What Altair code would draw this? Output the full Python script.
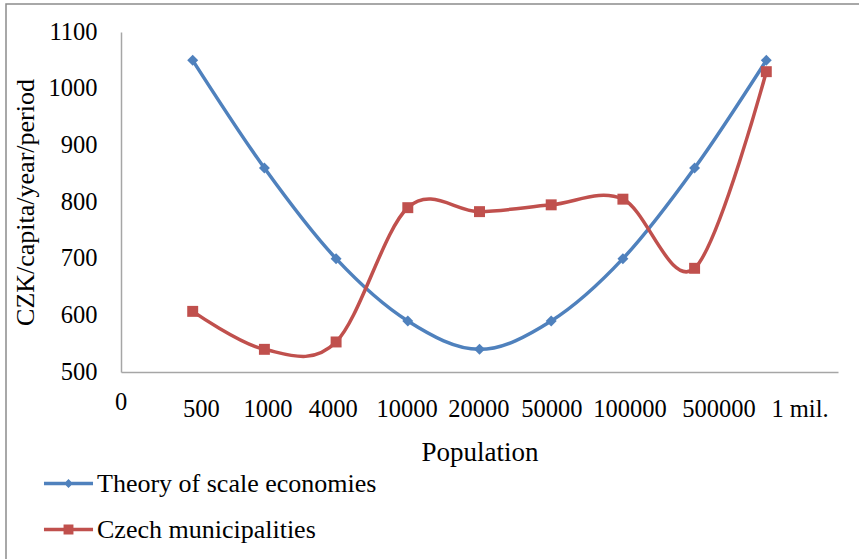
import altair as alt
import pandas as pd

# ---- data ----
populations = ["500", "1000", "4000", "10000", "20000", "50000", "100000", "500000", "1 mil."]
theory = [1050, 860, 700, 590, 540, 590, 700, 860, 1050]
czech = [607, 540, 553, 790, 783, 795, 805, 683, 1030]
series_names = ["Theory of scale economies", "Czech municipalities"]
colors = ["#4F81BD", "#C0504D"]

# category-axis labels (first one is the origin label "0")
axis_labels = ["0", "500", "1000", "4000", "10000", "20000", "50000", "100000", "500000", "1 mil."]
axis_label_pos = [0, 1.12, 2.05, 2.96, 3.99, 4.99, 6.01, 7.10, 8.34, 9.47]

FONT = "Liberation Serif"

pos = list(range(1, len(populations) + 1))
rows = []
for name, vals in zip(series_names, [theory, czech]):
    for p, lab, v in zip(pos, populations, vals):
        rows.append({"series": name, "pos": p, "population": lab, "value": v})
df = pd.DataFrame(rows)

lab_df = pd.DataFrame({"pos": axis_label_pos, "label": axis_labels})

x_enc = alt.X(
    "pos:Q",
    scale=alt.Scale(domain=[0, 10], nice=False, zero=False),
    axis=alt.Axis(
        title="Population", labels=False, ticks=False, grid=False,
        domainColor="#A6A6A6", domainWidth=1.5,
        titleFont=FONT, titleFontSize=27, titleFontWeight="normal",
        titleColor="black", titlePadding=67,
    ),
)
y_enc = alt.Y(
    "value:Q",
    scale=alt.Scale(domain=[500, 1100], nice=False, zero=False),
    axis=alt.Axis(
        title="CZK/capita/year/period", values=list(range(500, 1101, 100)), format="d",
        ticks=False, grid=False, domainColor="#A6A6A6", domainWidth=1.5,
        labelFont=FONT, labelFontSize=24.5, labelColor="black", labelPadding=24,
        titleFont=FONT, titleFontSize=26, titleFontWeight="normal",
        titleColor="black", titlePadding=10,
    ),
)
color_scale = alt.Scale(domain=series_names, range=colors)

legend_paths = [
    "M-1.09,-0.075H1.09V0.075H-1.09Z M-0.2,0L0,-0.2L0.2,0L0,0.2Z",
    "M-1.09,-0.075H1.09V0.075H-1.09Z M-0.22,-0.22H0.22V0.22H-0.22Z",
]
leg = alt.Legend(
    title=None, orient="none", legendX=-75, legendY=429, padding=0,
    rowPadding=10, labelOffset=6, symbolSize=2025, symbolStrokeWidth=0,
    symbolOpacity=1, labelFont=FONT, labelFontSize=26, labelColor="black",
    labelLimit=500,
)

base = alt.Chart(df)

border = alt.Chart(pd.DataFrame({"a": [0]})).mark_rect(
    fill="transparent", stroke="#8C8C8C", strokeWidth=1.5
).encode(x=alt.value(-115), x2=alt.value(760), y=alt.value(-28), y2=alt.value(560))

lines = base.mark_line(interpolate="cardinal", strokeWidth=3.5).encode(
    x=x_enc, y=y_enc, color=alt.Color("series:N", scale=color_scale, legend=None)
)

legend_layer = base.mark_point(filled=True, opacity=0).encode(
    x=x_enc, y=y_enc,
    color=alt.Color("series:N", scale=color_scale, legend=leg),
    shape=alt.Shape("series:N", scale=alt.Scale(domain=series_names, range=legend_paths), legend=leg),
)

pts_blue = base.transform_filter(alt.datum.series == series_names[0]).mark_point(
    shape="diamond", filled=True, size=120, opacity=1
).encode(x=x_enc, y=y_enc, color=alt.Color("series:N", scale=color_scale, legend=None))

pts_red = base.transform_filter(alt.datum.series == series_names[1]).mark_point(
    shape="square", filled=True, size=120, opacity=1
).encode(x=x_enc, y=y_enc, color=alt.Color("series:N", scale=color_scale, legend=None))

origin_label = alt.Chart(lab_df).transform_filter(alt.datum.label == "0").mark_text(
    font=FONT, fontSize=24.5, color="black", align="center", baseline="middle"
).encode(x=x_enc, y=alt.value(371), text="label:N")

cat_labels = alt.Chart(lab_df).transform_filter(alt.datum.label != "0").mark_text(
    font=FONT, fontSize=24.5, color="black", align="center", baseline="middle"
).encode(x=x_enc, y=alt.value(378), text="label:N")

chart = alt.layer(
    border, legend_layer, lines, pts_blue, pts_red, origin_label, cat_labels
).properties(
    width=717, height=340,
    padding={"left": 121, "top": 32, "right": 21, "bottom": 187},
    autosize=alt.AutoSizeParams(type="none"),
    background="white",
).configure_view(strokeWidth=0)

chart.save("out.html", embed_options={"renderer": "svg", "actions": False})
